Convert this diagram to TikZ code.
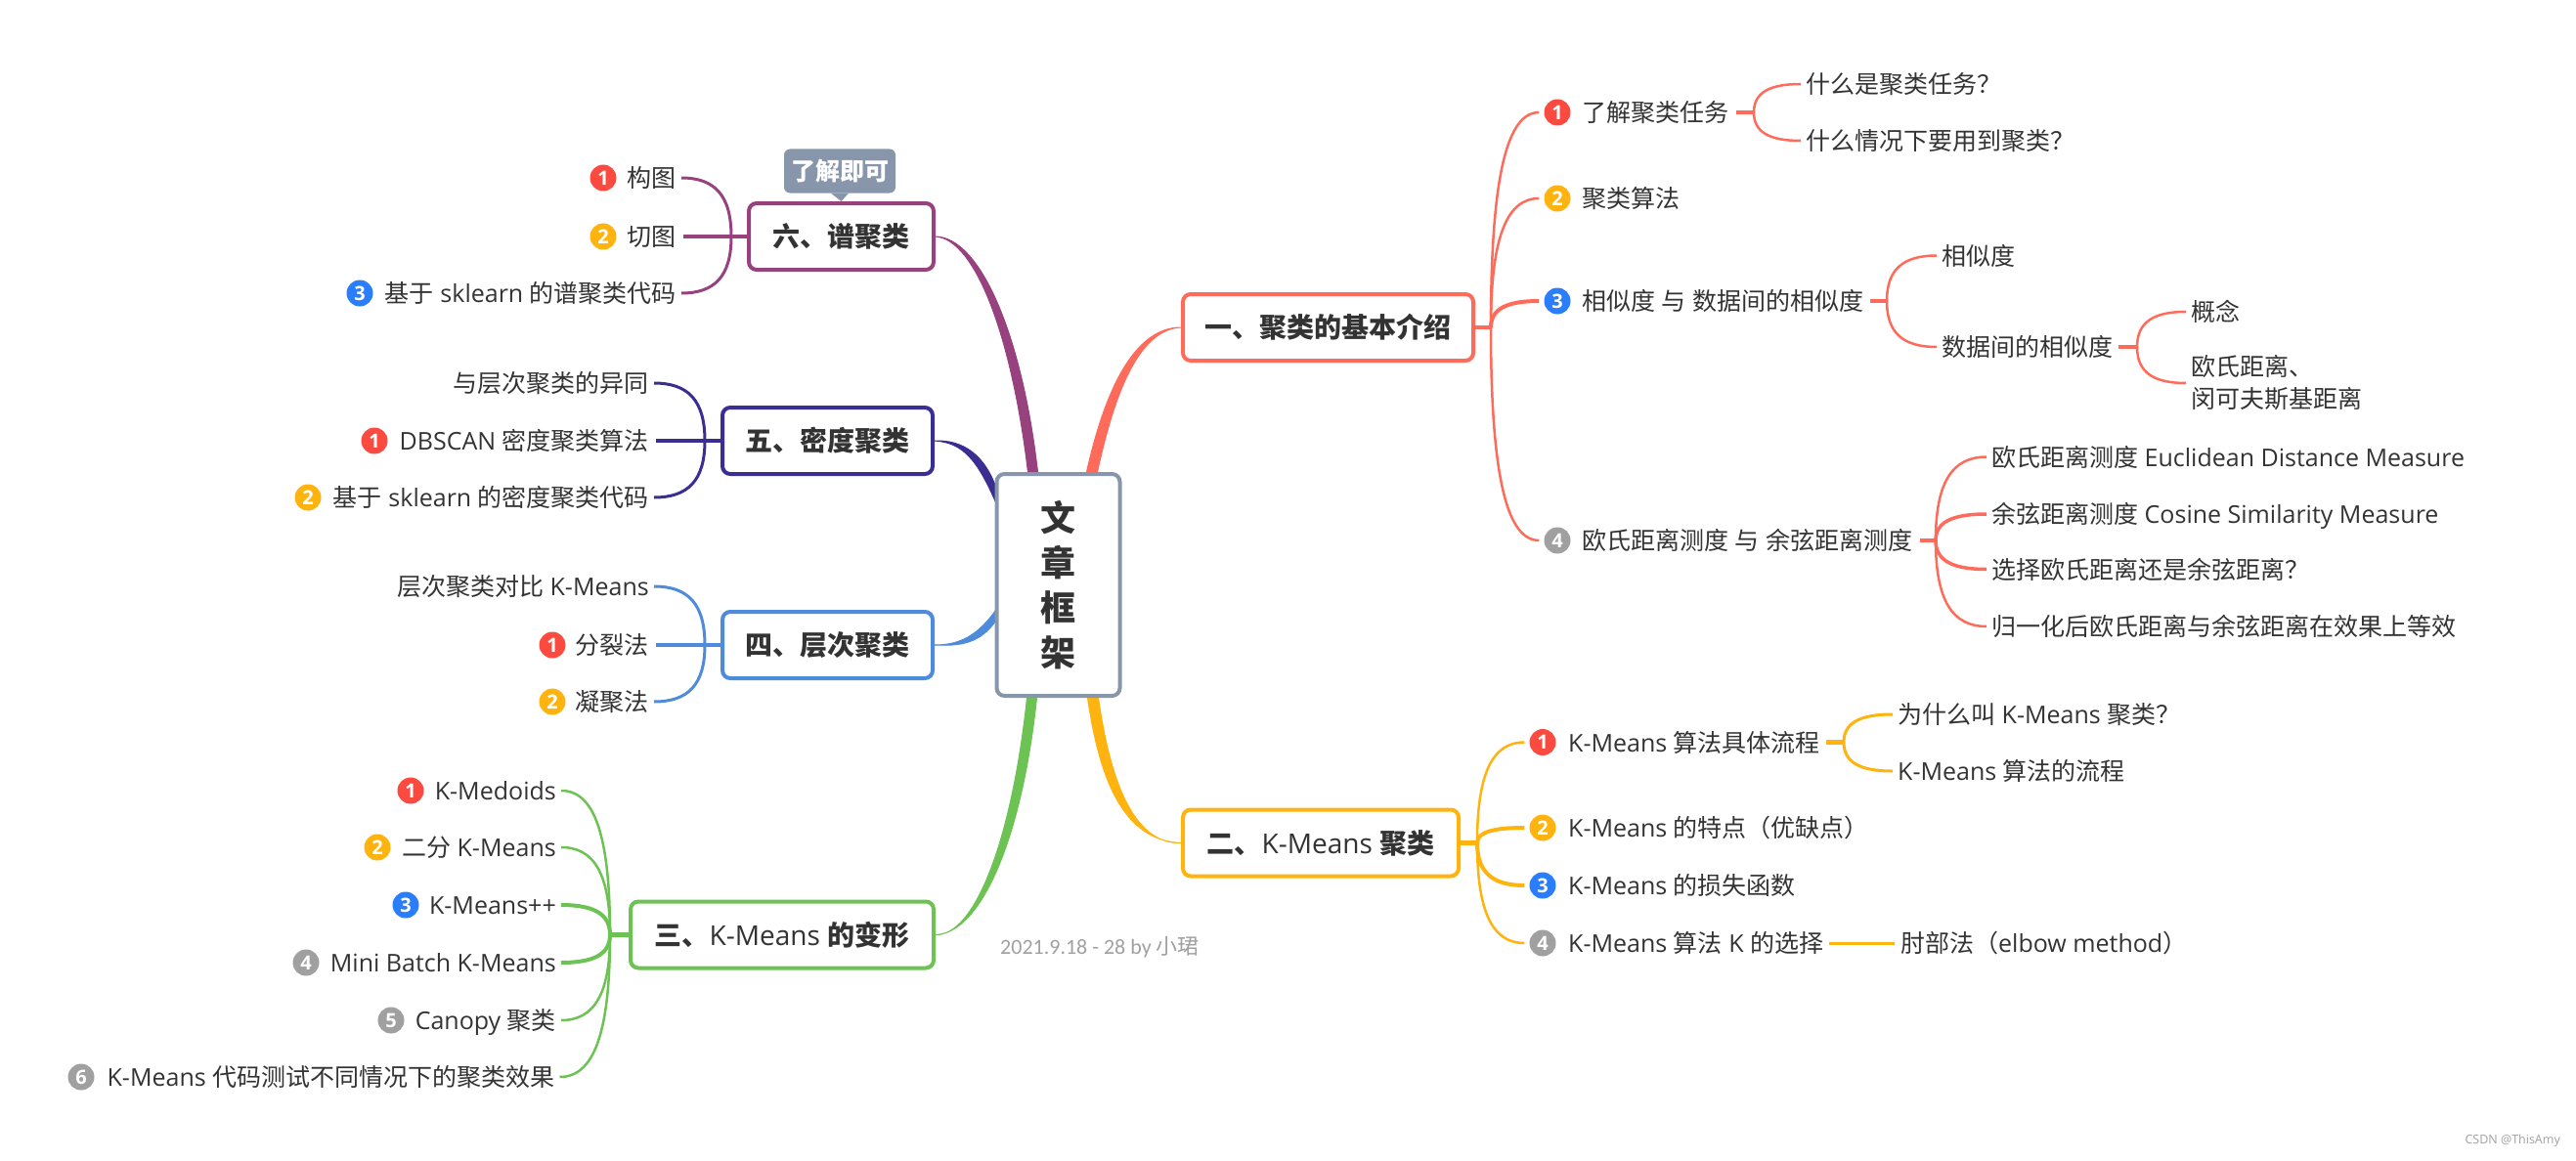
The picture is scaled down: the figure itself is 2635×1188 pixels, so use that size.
\documentclass[tikz,border=0pt]{standalone}
\usepackage{fontspec}
\setmainfont{Open Sans}
\newfontfamily\cjk{Noto Sans CJK SC}
\newfontfamily\stampfont{Carlito}
\newcommand{\zh}[1]{{\cjk #1}}
\usetikzlibrary{calc,backgrounds}
\definecolor{ink}{HTML}{333333}
\definecolor{rootgray}{HTML}{8896AB}
\definecolor{coral}{HTML}{FF6B5A}
\definecolor{amber}{HTML}{FFB30F}
\definecolor{grass}{HTML}{6DC254}
\definecolor{sky}{HTML}{4F8BDB}
\definecolor{deepblue}{HTML}{3A2E92}
\definecolor{plum}{HTML}{98417F}
\definecolor{dotred}{HTML}{FB4B40}
\definecolor{dotblue}{HTML}{2A7DFB}
\definecolor{dotgray}{HTML}{A0A0A0}
\tikzset{
	leaf/.style={inner sep=0pt,text=ink,font=\fontsize{25}{33}\selectfont,text height=22pt,text depth=3pt},
	leafright/.style={leaf,anchor=west},
	leafleft/.style={leaf,anchor=east},
	numdot/.style={circle,fill=#1,text=white,inner sep=0pt,minimum size=27pt,font=\fontsize{20}{20}\bfseries\selectfont},
	topic/.style={draw=#1,line width=4pt,rounded corners=8pt,fill=white,text=ink,minimum height=68pt,font=\fontsize{28}{28}\bfseries\selectfont},
	branch/.style={line width=#1,shorten >=5pt,to path={.. controls ($(\tikztostart)!0.7!(\tikztostart|-\tikztotarget)$) and ($(\tikztotarget)!0.7!(\tikztostart|-\tikztotarget)$) .. (\tikztotarget)}},
	branch/.default=2.5pt,
	stubline/.style={line width=4.5pt},
}
\begin{document}
\begin{tikzpicture}[x=1pt,y=-1pt]
\useasboundingbox (0,0) rectangle (2635,1188);

\node[draw=rootgray,line width=4pt,rounded corners=8pt,fill=white,text=ink,minimum width=126pt,minimum height=227pt,align=center,font=\fontsize{36}{46}\bfseries\cjk] (root) at (1082.5,598.5) {文\\章\\框\\架};

\node[topic=coral,minimum width=297pt] (one) at (1358.5,335) {\zh{一、聚类的基本介绍}};
\node[topic=amber,minimum width=282pt] (two) at (1351,862.5) {\zh{二、}{\mdseries K-Means} \zh{聚类}};
\node[topic=grass,minimum width=310pt] (three) at (800,956.5) {\zh{三、}{\mdseries K-Means} \zh{的变形}};
\node[topic=sky,minimum width=215pt] (four) at (846.5,660) {\zh{四、层次聚类}};
\node[topic=deepblue,minimum width=215pt] (five) at (846.5,451) {\zh{五、密度聚类}};
\node[topic=plum,minimum width=189pt] (six) at (860.5,242) {\zh{六、谱聚类}};

\node[fill=rootgray,rounded corners=6pt,text=white,minimum width=114pt,minimum height=45pt,inner sep=0pt,font=\fontsize{25}{25}\bfseries\cjk] (tag) at (859,175) {了解即可};
\fill[rootgray] ([xshift=-9pt]tag.south) -- (six.north) -- ([xshift=9pt]tag.south) -- cycle;

\begin{scope}[on background layer]
	\filldraw[coral,line width=1pt] ([xshift=29pt]root.north) .. controls (1130,400) and (1160,335) .. (one.west) .. controls (1165,337) and (1140,402) .. ([xshift=40pt]root.north) -- cycle;
	\filldraw[plum,line width=1pt] ([xshift=-21pt]root.north) .. controls (1045,340) and (1002,243) .. (six.east) .. controls (998,245) and (1035,345) .. ([xshift=-31pt]root.north) -- cycle;
	\filldraw[grass,line width=1pt] ([xshift=-22pt]root.south) .. controls (1045,860) and (1003,955) .. (three.east) .. controls (997,958) and (1035,860) .. ([xshift=-32pt]root.south) -- cycle;
	\filldraw[amber,line width=1pt] ([xshift=30pt]root.south) .. controls (1125,800) and (1150,860) .. (two.west) .. controls (1158,864) and (1135,795) .. ([xshift=41pt]root.south) -- cycle;
	\filldraw[deepblue,line width=1pt] ([xshift=3pt,yshift=95pt]root.west) .. controls (1008,465) and (985,450) .. (five.east) .. controls (985,453) and (1000,470) .. ([xshift=3pt,yshift=80pt]root.west) -- cycle;
	\filldraw[sky,line width=1pt] ([xshift=3pt,yshift=-23pt]root.west) .. controls (1000,652) and (980,660) .. (four.east) .. controls (980,661) and (1003,660) .. ([xshift=3pt,yshift=-34pt]root.west) -- cycle;
\end{scope}

\node[numdot=dotred] (oned1) at (1593,115) {1};
\node[numdot=amber] (oned2) at (1593,203) {2};
\node[numdot=dotblue] (oned3) at (1593,308) {3};
\node[numdot=dotgray] (oned4) at (1593,553) {4};
\node[leafright] (onet1) at (1618,115) {\zh{了解聚类任务}};
\node[leafright] (onet2) at (1618,203) {\zh{聚类算法}};
\node[leafright] (onet3) at (1618,308) {\zh{相似度} \zh{与} \zh{数据间的相似度}};
\node[leafright] (onet4) at (1618,553) {\zh{欧氏距离测度} \zh{与} \zh{余弦距离测度}};
\node[leafright] (q1) at (1847,86) {\zh{什么是聚类任务？}};
\node[leafright] (q2) at (1847,144) {\zh{什么情况下要用到聚类？}};
\node[leafright] (s1) at (1986,261.5) {\zh{相似度}};
\node[leafright] (s2) at (1986,355) {\zh{数据间的相似度}};
\node[leafright] (c1) at (2241,319) {\zh{概念}};
\node[anchor=west,inner sep=0pt,text=ink,align=left,font=\fontsize{25}{33}\cjk] (c2) at (2241,392) {欧氏距离、\\闵可夫斯基距离};
\node[leafright] (e1) at (2037,467.5) {\zh{欧氏距离测度} Euclidean Distance Measure};
\node[leafright] (e2) at (2037,526) {\zh{余弦距离测度} Cosine Similarity Measure};
\node[leafright] (e3) at (2037,582.5) {\zh{选择欧氏距离还是余弦距离？}};
\node[leafright] (e4) at (2037,641) {\zh{归一化后欧氏距离与余弦距离在效果上等效}};

\node[numdot=dotred] (twod1) at (1578,759.5) {1};
\node[numdot=amber] (twod2) at (1578,847) {2};
\node[numdot=dotblue] (twod3) at (1578,906) {3};
\node[numdot=dotgray] (twod4) at (1578,965) {4};
\node[leafright] (twot1) at (1604,759.5) {K-Means \zh{算法具体流程}};
\node[leafright] (twot2) at (1604,847) {K-Means \zh{的特点（优缺点）}};
\node[leafright] (twot3) at (1604,906) {K-Means \zh{的损失函数}};
\node[leafright] (twot4) at (1604,965) {K-Means \zh{算法} K \zh{的选择}};
\node[leafright] (k1) at (1941,731) {\zh{为什么叫} K-Means \zh{聚类？}};
\node[leafright] (k2) at (1941,789) {K-Means \zh{算法的流程}};
\node[leafright] (k3) at (1944,965) {\zh{肘部法（}elbow method\zh{）}};

\node[leafleft] (thr1) at (569,809) {K-Medoids};
\node[leafleft] (thr2) at (569,867) {\zh{二分} K-Means};
\node[leafleft] (thr3) at (569,926) {K-Means++};
\node[leafleft] (thr4) at (569,985) {Mini Batch K-Means};
\node[leafleft] (thr5) at (569,1044) {Canopy \zh{聚类}};
\node[leafleft] (thr6) at (567.5,1102) {K-Means \zh{代码测试不同情况下的聚类效果}};
\node[numdot=dotred] (thrd1) at (420,809) {1};
\node[numdot=amber] (thrd2) at (386,867) {2};
\node[numdot=dotblue] (thrd3) at (415,926) {3};
\node[numdot=dotgray] (thrd4) at (313,985) {4};
\node[numdot=dotgray] (thrd5) at (400,1044) {5};
\node[numdot=dotgray] (thrd6) at (83,1102) {6};

\node[leafleft] (fou1) at (664,600) {\zh{层次聚类对比} K-Means};
\node[leafleft] (fou2) at (664,660) {\zh{分裂法}};
\node[leafleft] (fou3) at (664,718) {\zh{凝聚法}};
\node[numdot=dotred] (foud2) at (565,660) {1};
\node[numdot=amber] (foud3) at (565,718) {2};

\node[leafleft] (fiv1) at (664,392) {\zh{与层次聚类的异同}};
\node[leafleft] (fiv2) at (664,451) {DBSCAN \zh{密度聚类算法}};
\node[leafleft] (fiv3) at (664,509) {\zh{基于} sklearn \zh{的密度聚类代码}};
\node[numdot=dotred] (fivd2) at (383,451) {1};
\node[numdot=amber] (fivd3) at (315,509) {2};

\node[leafleft] (six1) at (692,182) {\zh{构图}};
\node[leafleft] (six2) at (692,242) {\zh{切图}};
\node[leafleft] (six3) at (692,300) {\zh{基于} sklearn \zh{的谱聚类代码}};
\node[numdot=dotred] (sixd1) at (617,182) {1};
\node[numdot=amber] (sixd2) at (617,242) {2};
\node[numdot=dotblue] (sixd3) at (368,300) {3};

\coordinate (jone) at (1525,335);
\draw[stubline,coral] (one.east) -- (jone);
\foreach \nd/\wd in {oned1/2.5pt,oned2/2.5pt,oned3/4pt,oned4/2.5pt}
	\draw[branch=\wd,coral] (jone) to (\nd.west);
\coordinate (ja1) at (1794,115);
\draw[stubline,coral,shorten <=8pt] (onet1.east) -- (ja1);
\foreach \nd in {q1,q2}
	\draw[branch,coral] (ja1) to (\nd.west);
\coordinate (ja3) at (1930,308);
\draw[stubline,coral,shorten <=7pt] (onet3.east) -- (ja3);
\foreach \nd in {s1,s2}
	\draw[branch,coral] (ja3) to (\nd.west);
\coordinate (jas2) at (2186,355);
\draw[stubline,coral,shorten <=6pt] (s2.east) -- (jas2);
\foreach \nd in {c1,c2}
	\draw[branch,coral] (jas2) to (\nd.west);
\coordinate (ja4) at (1980,553);
\draw[stubline,coral,shorten <=8pt] (onet4.east) -- (ja4);
\foreach \nd/\wd in {e1/2.5pt,e2/3.5pt,e3/3.5pt,e4/2.5pt}
	\draw[branch=\wd,coral] (ja4) to (\nd.west);

\coordinate (jtwo) at (1511,862.5);
\draw[stubline,amber] (two.east) -- (jtwo);
\foreach \nd/\wd in {twod1/2.5pt,twod2/4pt,twod3/4pt,twod4/2.5pt}
	\draw[branch=\wd,amber] (jtwo) to (\nd.west);
\coordinate (jb1) at (1886,759.5);
\draw[stubline,amber,shorten <=6pt] (twot1.east) -- (jb1);
\foreach \nd in {k1,k2}
	\draw[branch=3pt,amber] (jb1) to (\nd.west);
\draw[amber,line width=3pt,shorten <=6pt,shorten >=6pt] (twot4.east) -- (k3.west);

\coordinate (jthree) at (624,956.5);
\draw[stubline,grass] (three.west) -- (jthree);
\foreach \nd/\wd in {thr1/2.5pt,thr2/2.5pt,thr3/4pt,thr4/4pt,thr5/2.5pt,thr6/2.5pt}
	\draw[branch=\wd,grass] (jthree) to (\nd.east);

\coordinate (jfour) at (721,660);
\draw[stubline,sky,shorten >=7pt] (four.west) -- (fou2.east);
\foreach \nd in {fou1,fou3}
	\draw[branch=3pt,sky] (jfour) to (\nd.east);

\coordinate (jfive) at (721,451);
\draw[stubline,deepblue,shorten >=7pt] (five.west) -- (fiv2.east);
\foreach \nd in {fiv1,fiv3}
	\draw[branch=3pt,deepblue] (jfive) to (\nd.east);

\coordinate (jsix) at (748,242);
\draw[stubline,plum,shorten >=7pt] (six.west) -- (six2.east);
\foreach \nd in {six1,six3}
	\draw[branch=3pt,plum] (jsix) to (\nd.east);

\node[inner sep=0pt,text=dotgray,anchor=west,font=\fontsize{22}{22}\stampfont] (stamp) at (1023,969) {2021.9.18 - 28 by \zh{小珺}};
\node[inner sep=0pt,text=dotgray,anchor=east,font=\fontsize{12.5}{13}\selectfont] (csdn) at (2619,1167) {CSDN @ThisAmy};
\end{tikzpicture}
\end{document}
